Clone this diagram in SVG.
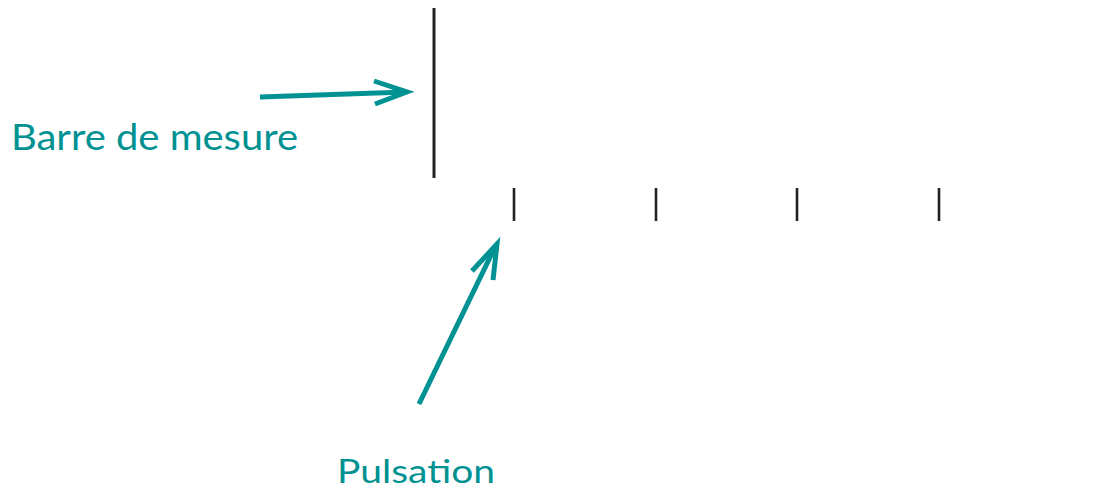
<svg xmlns="http://www.w3.org/2000/svg" width="1093" height="490" viewBox="0 0 1093 490">
<style>
.bar{stroke:#222;stroke-width:3;fill:none}
.tick{stroke:#222;stroke-width:2.6;fill:none}
.arr{stroke:#009292;stroke-width:5;fill:none;stroke-linecap:butt;stroke-linejoin:miter}
.lbl{font-family:Lato,"Liberation Sans",sans-serif;font-size:36px;fill:#009292}
</style>
<rect width="1093" height="490" fill="#fff"/>
<g id="barre"><line class="bar" x1="434" y1="8" x2="434" y2="178"/></g>
<g id="pulsations">
<line class="tick" x1="514" y1="188" x2="514" y2="221"/>
<line class="tick" x1="656" y1="188" x2="656" y2="221"/>
<line class="tick" x1="797" y1="188" x2="797" y2="221"/>
<line class="tick" x1="939" y1="188" x2="939" y2="221"/>
</g>
<g id="label-barre"><text class="lbl" x="11" y="150" textLength="287" lengthAdjust="spacingAndGlyphs">Barre de mesure</text></g>
<g id="label-pulsation"><text class="lbl" x="337" y="483" style="font-size:33px" textLength="158" lengthAdjust="spacingAndGlyphs">Pulsation</text></g>
<g id="connectors">
<line class="arr" x1="260" y1="97" x2="406" y2="92"/>
<polyline class="arr" points="374,81 407,92 375,104"/>
<line class="arr" x1="419" y1="404" x2="495" y2="247"/>
<polyline class="arr" points="472,271 497,244 493,280"/>
</g>
</svg>
